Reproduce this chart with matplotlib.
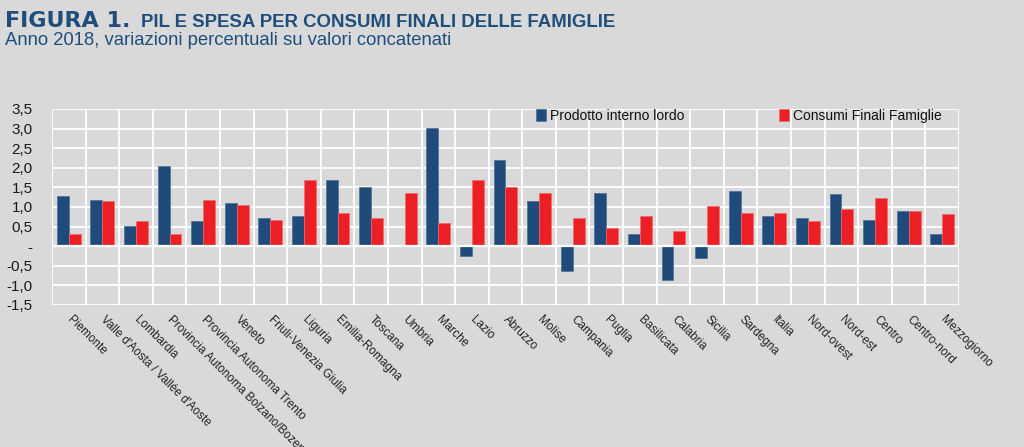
import matplotlib
matplotlib.use("Agg")
import matplotlib.pyplot as plt
import numpy as np

categories = ["Piemonte", "Valle d'Aosta / Vallée d'Aoste", "Lombardia",
              "Provincia Autonoma Bolzano/Bozen", "Provincia Autonoma Trento",
              "Veneto", "Friuli-Venezia Giulia", "Liguria", "Emilia-Romagna",
              "Toscana", "Umbria", "Marche", "Lazio", "Abruzzo", "Molise",
              "Campania", "Puglia", "Basilicata", "Calabria", "Sicilia",
              "Sardegna", "Italia", "Nord-ovest", "Nord-est", "Centro",
              "Centro-nord", "Mezzogiorno"]

pil = [1.27, 1.19, 0.51, 2.04, 0.64, 1.11, 0.72, 0.77, 1.70, 1.52, 0.04, 3.02,
       -0.25, 2.21, 1.15, -0.64, 1.36, 0.30, -0.85, -0.30, 1.41, 0.77, 0.72,
       1.32, 0.68, 0.89, 0.30]
consumi = [0.30, 1.15, 0.64, 0.30, 1.19, 1.06, 0.68, 1.70, 0.85, 0.72, 1.36,
           0.60, 1.70, 1.52, 1.36, 0.72, 0.47, 0.77, 0.38, 1.02, 0.85, 0.85,
           0.64, 0.94, 1.24, 0.89, 0.81]

yticks = [-1.5, -1.0, -0.5, 0.0, 0.5, 1.0, 1.5, 2.0, 2.5, 3.0, 3.5]
ytick_labels = ["-1,5", "-1,0", "-0,5", "-", "0,5", "1,0", "1,5", "2,0", "2,5", "3,0", "3,5"]

series_names = ["Prodotto interno lordo", "Consumi Finali Famiglie"]
title_bold = "FIGURA 1."
title_rest = "PIL E SPESA PER CONSUMI FINALI DELLE FAMIGLIE"
subtitle = "Anno 2018, variazioni percentuali su valori concatenati"

BG = "#d9d9d9"
BLUE = "#1f4a7a"
RED = "#ec2024"
TITLE_C = "#1f4e7d"
SANS = ["Liberation Sans", "DejaVu Sans"]

fig = plt.figure(figsize=(10.24, 4.47), dpi=100, facecolor=BG)
ax = fig.add_axes([52/1024, 1-305/447, (959-52)/1024, (305-109)/447])
ax.set_facecolor(BG)

n = len(categories)
x = np.arange(n)
w = 0.355
ax.bar(x - w/2, pil, width=w, color=BLUE, edgecolor="#4a6f98", linewidth=0.5,
       label=series_names[0], zorder=3)
ax.bar(x + w/2, consumi, width=w, color=RED, edgecolor="#f06a6a", linewidth=0.5,
       label=series_names[1], zorder=3)

ax.set_xlim(-0.5, n - 0.5)
ax.set_ylim(-1.5, 3.5)
ax.set_yticks(yticks)
ax.set_yticklabels(ytick_labels, fontsize=11, color="#1a1a1a", family=SANS)
ax.set_xticks(x)
ax.set_xticklabels(categories, rotation=-45, ha="left", va="center",
                   rotation_mode="anchor", fontsize=8.5, color="#222222",
                   family=SANS)
ax.tick_params(axis="y", length=0, pad=14)
ax.tick_params(axis="x", length=0, pad=9)

for yv in yticks:
    ax.axhline(yv, color="white", lw=1.3, zorder=1)
for xv in np.arange(-0.5, n, 1.0):
    ax.axvline(xv, color="white", lw=1.3, zorder=1)
ax.axhline(0, color="white", lw=1.6, zorder=4)
for s in ax.spines.values():
    s.set_visible(False)

leg = ax.legend(loc="upper left", bbox_to_anchor=(0.52, 1.065), ncol=2,
                frameon=False, handlelength=0.7, handleheight=0.9,
                handletextpad=0.3, columnspacing=6.8,
                prop={"family": SANS, "size": 10})
for t in leg.get_texts():
    t.set_color("#111111")

fig.text(5/1024, 1-27/447, title_bold, fontsize=16, fontweight="bold",
         color=TITLE_C, family=["DejaVu Sans"], va="baseline")
fig.text(141/1024, 1-27/447, title_rest, fontsize=13.4, fontweight="bold",
         color=TITLE_C, family=SANS, va="baseline")
fig.text(5/1024, 1-45/447, subtitle, fontsize=13.3, color=TITLE_C,
         family=SANS, va="baseline")

fig.savefig("out.png", dpi=100, facecolor=BG)
